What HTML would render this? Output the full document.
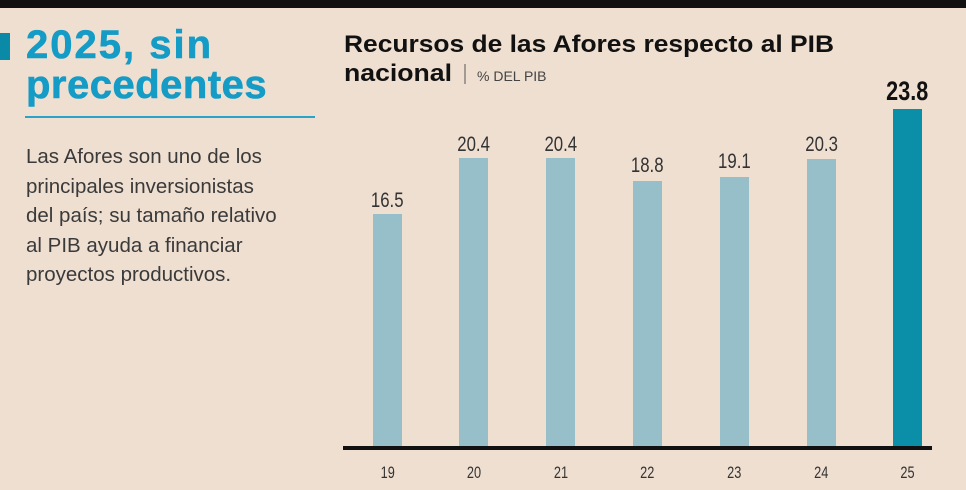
<!DOCTYPE html>
<html><head><meta charset="utf-8"><style>
html,body{margin:0;padding:0;}
body{width:966px;height:490px;background:#efdfd1;position:relative;overflow:hidden;font-family:"Liberation Sans",sans-serif;}
.topbar{position:absolute;left:0;top:0;width:966px;height:8px;background:#111;}
.mark{position:absolute;left:0;top:33px;width:10px;height:27px;background:#0b8aa8;}
.title{position:absolute;left:26px;top:25px;color:#149bc6;font-weight:bold;font-size:40px;line-height:40px;letter-spacing:0.5px;-webkit-text-stroke:0.6px #149bc6;}
.rule{position:absolute;left:25px;top:116px;width:290px;height:2px;background:#2aa3c8;}
.body{position:absolute;left:26px;top:142px;color:#3a3a3a;font-size:20.5px;line-height:29.5px;}
svg{position:absolute;left:0;top:0;}
</style></head><body>
<div class="topbar"></div>
<div class="mark"></div>
<div class="title"><span style="letter-spacing:2px">2025, sin</span><br>precedentes</div>
<div class="rule"></div>
<div class="body">Las Afores son uno de los<br>principales inversionistas<br>del país; su tamaño relativo<br>al PIB ayuda a financiar<br>proyectos productivos.</div>
<svg width="966" height="490" xmlns="http://www.w3.org/2000/svg">
<text x="344" y="52" font-family="Liberation Sans" font-weight="bold" font-size="24" fill="#111" textLength="490" lengthAdjust="spacingAndGlyphs">Recursos de las Afores respecto al PIB</text>
<text x="344" y="81" font-family="Liberation Sans" font-weight="bold" font-size="24" fill="#111" textLength="108" lengthAdjust="spacingAndGlyphs">nacional</text>
<line x1="465" y1="64" x2="465" y2="84" stroke="#555" stroke-width="1"/>
<text x="477" y="81" font-family="Liberation Sans" font-size="14" fill="#444">% DEL PIB</text>
<g fill="#97bfc9">
<rect x="373" y="214" width="29" height="235"/>
<rect x="459" y="158" width="29" height="291"/>
<rect x="546" y="158" width="29" height="291"/>
<rect x="633" y="181" width="29" height="268"/>
<rect x="720" y="177" width="29" height="272"/>
<rect x="807" y="159" width="29" height="290"/>
</g>
<rect x="893" y="109" width="29" height="340" fill="#0b8fa8"/>
<rect x="343" y="446" width="589" height="4" fill="#111"/>
<g font-family="Liberation Sans" font-size="21" fill="#333" text-anchor="middle" transform="scale(0.8,1)">
<text x="484" y="207">16.5</text>
<text x="592" y="151">20.4</text>
<text x="701" y="151">20.4</text>
<text x="809" y="172">18.8</text>
<text x="918" y="168">19.1</text>
<text x="1027" y="151">20.3</text>
<text x="1134" y="100" font-weight="bold" font-size="27" fill="#111">23.8</text>
</g>
<g font-family="Liberation Sans" font-size="17" fill="#333" text-anchor="middle" transform="scale(0.75,1)">
<text x="517" y="478">19</text>
<text x="632" y="478">20</text>
<text x="748" y="478">21</text>
<text x="863" y="478">22</text>
<text x="979" y="478">23</text>
<text x="1095" y="478">24</text>
<text x="1210" y="478">25</text>
</g>
</svg>
</body></html>
